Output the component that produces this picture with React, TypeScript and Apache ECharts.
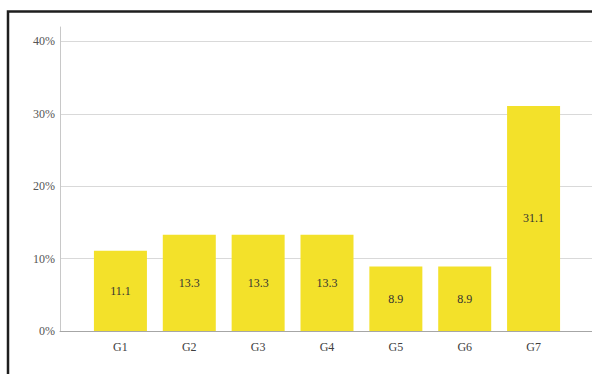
import React, { useEffect, useRef } from "react";
import * as echarts from "echarts";

const categories = ["G1", "G2", "G3", "G4", "G5", "G6", "G7"];
const percentValues = [11.1, 13.3, 13.3, 13.3, 8.9, 8.9, 31.1];
const yTickValues = [0, 10, 20, 30, 40];

const FONT = '"Liberation Serif", "Times New Roman", serif';

export default function App() {
  const ref = useRef<HTMLDivElement>(null);
  useEffect(() => {
    if (!ref.current) return;
    const chart = echarts.init(ref.current, undefined, { renderer: "svg" });
    chart.setOption({
      animation: false,
      backgroundColor: "#ffffff",
      graphic: [
        {
          type: "polyline",
          shape: { points: [[8, 400], [8, 11.5], [600, 11.5]] },
          style: { stroke: "#1e1e1e", lineWidth: 2.5, fill: "none" },
          z: 100,
        },
      ],
      grid: [
        { left: 60, right: 0, top: 27, bottom: 43 },
        { left: 86, right: 24, top: 27, bottom: 43 },
      ],
      xAxis: [
        {
          gridIndex: 0,
          type: "value",
          min: 0,
          max: 1,
          axisLine: { show: true, onZero: false, lineStyle: { color: "#a6a6a6", width: 1 } },
          axisTick: { show: false },
          axisLabel: { show: false },
          splitLine: { show: false },
        },
        {
          gridIndex: 1,
          type: "category",
          data: categories,
          axisLine: { show: false },
          axisTick: { show: false },
          axisLabel: { color: "#404040", fontFamily: FONT, fontSize: 12, margin: 10 },
          splitLine: { show: false },
        },
      ],
      yAxis: [
        {
          gridIndex: 0,
          type: "value",
          min: 0,
          max: 42,
          interval: 10,
          axisLine: { show: true, lineStyle: { color: "#c8c8c8", width: 1 } },
          axisTick: { show: false },
          axisLabel: {
            color: "#555555",
            fontFamily: FONT,
            fontSize: 12,
            margin: 5,
            showMaxLabel: false,
            formatter: (v: number) => (yTickValues.includes(v) ? v + "%" : ""),
          },
          splitLine: { show: true, showMaxLine: false, lineStyle: { color: "#d9d9d9", width: 1 } },
        },
        {
          gridIndex: 1,
          type: "value",
          min: 0,
          max: 42,
          show: false,
          splitLine: { show: false },
        },
      ],
      series: [
        {
          type: "bar",
          xAxisIndex: 1,
          yAxisIndex: 1,
          data: percentValues,
          barWidth: 53,
          itemStyle: { color: "#F3E12A" },
          label: {
            show: true,
            position: "inside",
            color: "#333333",
            fontFamily: FONT,
            fontSize: 12,
            formatter: (p: any) => Number(p.value).toFixed(1),
          },
        },
      ],
    });
    return () => chart.dispose();
  }, []);
  return (
    <div
      ref={ref}
      style={{ position: "absolute", left: 0, top: 0, width: 592, height: 374 }}
    />
  );
}
